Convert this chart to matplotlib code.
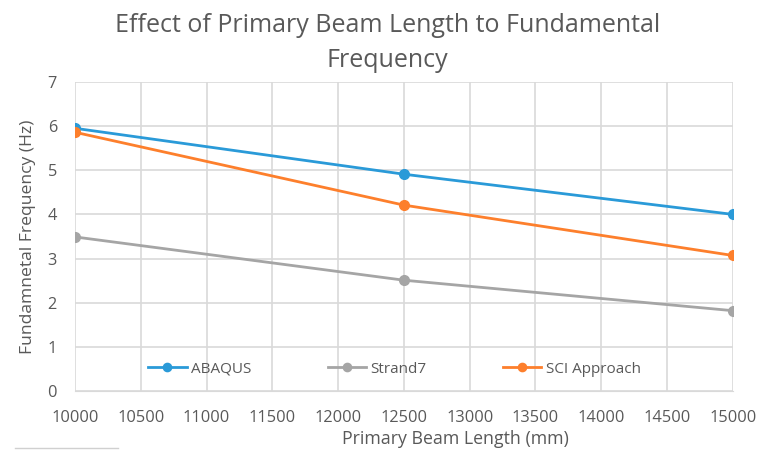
import matplotlib.pyplot as plt
from matplotlib.lines import Line2D
from matplotlib.ticker import MultipleLocator

# data
beam_length = [10000, 12500, 15000]
abaqus = [5.95, 4.91, 4.0]
strand7 = [3.49, 2.51, 1.82]
sci_approach = [5.86, 4.21, 3.07]

plt.rcParams['font.family'] = ['Open Sans', 'DejaVu Sans']
txt = '#595959'

fig = plt.figure(figsize=(7.57, 4.5), dpi=100)
ax = fig.add_axes([0.099, 0.131, 0.869, 0.687])

ax.plot(beam_length, abaqus, color='#2a9ad8', lw=2, marker='o', ms=7, label='ABAQUS')
ax.plot(beam_length, strand7, color='#a5a5a5', lw=2, marker='o', ms=7, label='Strand7')
ax.plot(beam_length, sci_approach, color='#fd7f2c', lw=2, marker='o', ms=7, label='SCI Approach')

ax.set_xlim(10000, 15000)
ax.set_ylim(0, 7)
ax.xaxis.set_major_locator(MultipleLocator(500))
ax.yaxis.set_major_locator(MultipleLocator(1))
ax.grid(True, color='#d9d9d9', lw=1.2)
ax.set_axisbelow(True)
for s in ['top', 'right', 'left']:
    ax.spines[s].set_visible(False)
ax.spines['bottom'].set_color('#d9d9d9')
ax.tick_params(length=0, labelsize=11.8, colors=txt)
ax.tick_params(axis='x', pad=14)
ax.tick_params(axis='y', pad=13)

ax.set_xlabel('Primary Beam Length (mm)', fontsize=12.8, color=txt)
ax.xaxis.set_label_coords(0.578, -0.126)
ax.set_ylabel('Fundamnetal Frequency (Hz)', fontsize=12.6, color=txt, labelpad=8)
fig.text(0.512, 0.905, 'Effect of Primary Beam Length to Fundamental\nFrequency',
         ha='center', va='center', fontsize=18, color=txt, linespacing=1.55)

leg = ax.legend(loc='center', bbox_to_anchor=(0.486, 0.071), ncol=3, frameon=False,
                fontsize=11, columnspacing=5.0, handlelength=2.5, handletextpad=0.3,
                labelcolor=txt, markerscale=0.85)

# small stray rule at bottom left of the original image
fig.add_artist(Line2D([15 / 757, 118 / 757], [1 - 448 / 450] * 2, color='#d0d0d0', lw=1))

fig.savefig('out.png', dpi=100)
